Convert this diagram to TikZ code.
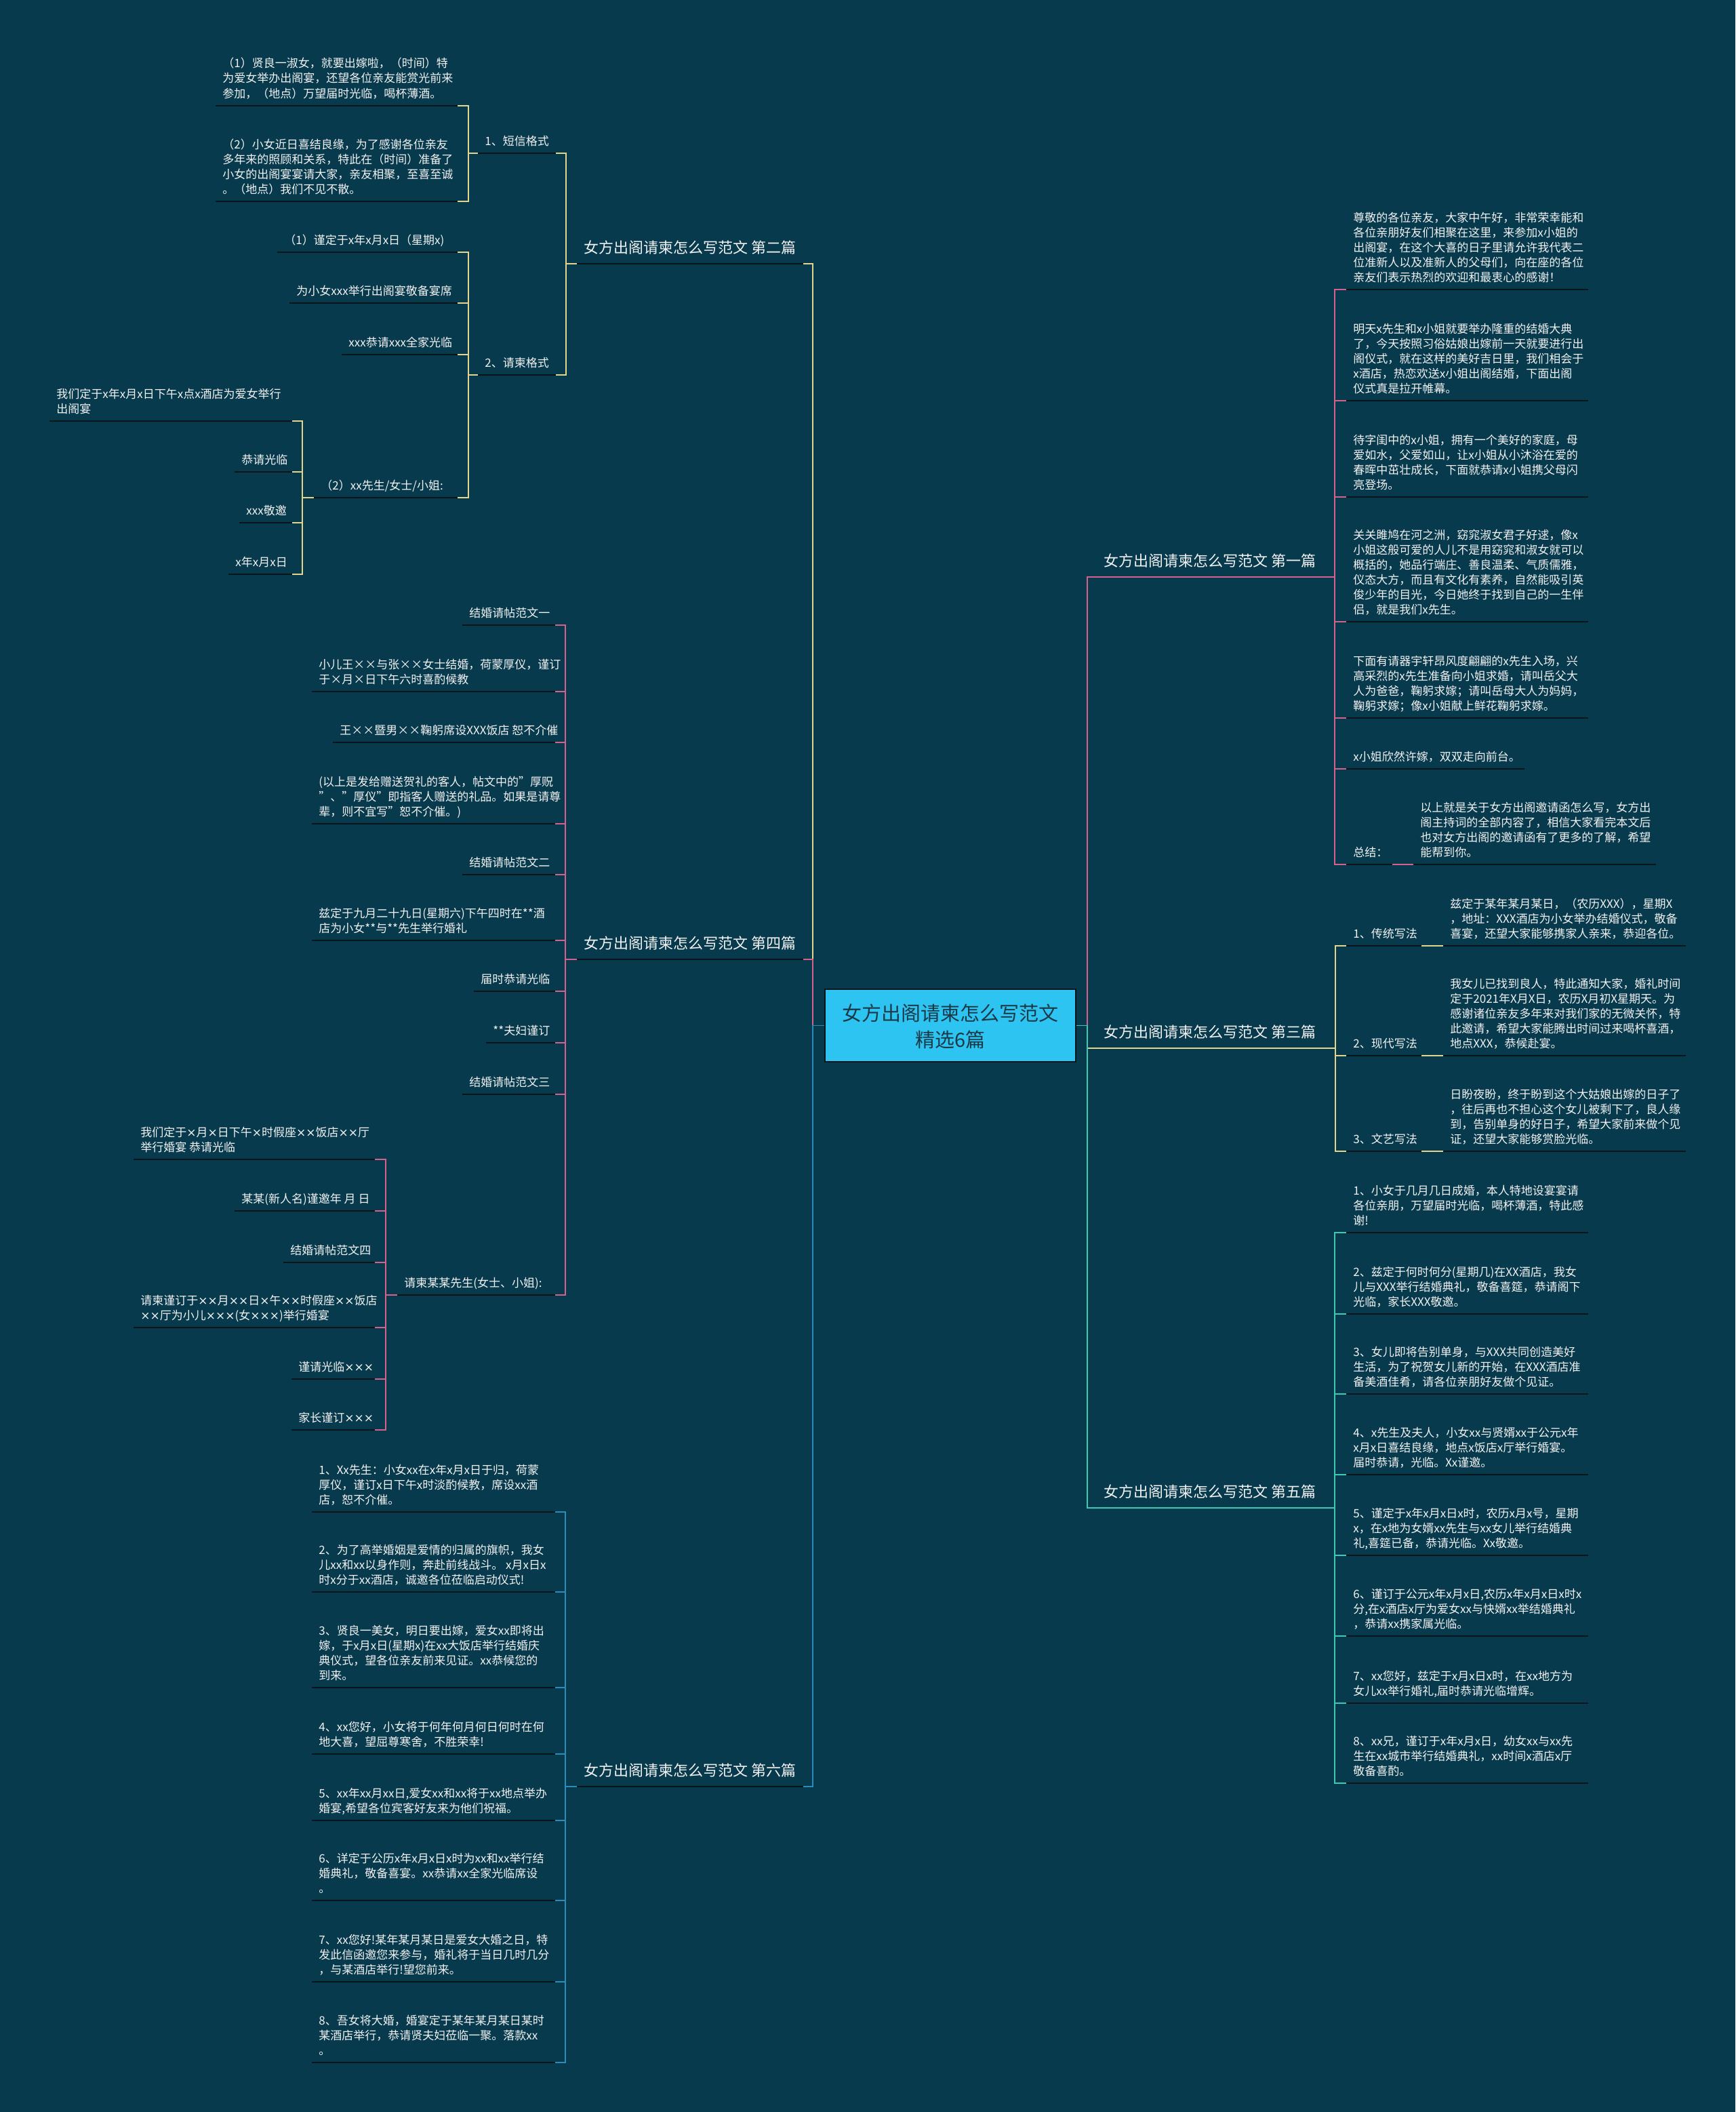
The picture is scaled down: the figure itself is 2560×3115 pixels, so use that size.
\documentclass[tikz,border=0pt]{standalone}
\usepackage{fontspec}
\setmainfont{Noto Sans CJK SC}
\newfontfamily\xfont{DejaVu Sans}
\newcommand\X{{\xfont ×}}
\definecolor{bg}{HTML}{083A4D}
\definecolor{ulc}{HTML}{09151B}
\definecolor{yel}{HTML}{E3D68C}
\definecolor{pinkc}{HTML}{D5618C}
\definecolor{bluec}{HTML}{2A8CBD}
\definecolor{tealc}{HTML}{3CCAB2}
\definecolor{cyanc}{HTML}{2EC4F2}
\definecolor{roottxt}{HTML}{1B3947}
\definecolor{txtc}{HTML}{F2F2F2}
\newcommand\tb[1]{\begin{tabular}[b]{@{}l@{}}#1\end{tabular}}
\newcommand\leaf[5]{%
  \coordinate (#1-l) at (#2,#4);
  \coordinate (#1-r) at (#3,#4);
  \draw[ul] (#1-l) -- (#1-r);
  \node[txt] (#1) at ({#2+10},{#4-12}) {\tb{#5}};}
\newcommand\lab[5]{%
  \coordinate (#1-l) at (#2,#4);
  \coordinate (#1-r) at (#3,#4);
  \draw[ul] (#1-l) -- (#1-r);
  \node[labt] (#1) at ({#2+10},{#4-16}) {#5};}
\newcommand\conn[4]{\foreach \c in {#4} {\draw[#1] (#2) -- ++(#3,0) |- (\c);}}
\tikzset{
  ul/.style={draw=ulc, line width=1.25pt},
  cyel/.style={draw=yel, line width=0.7pt},
  cpink/.style={draw=pinkc, line width=0.7pt},
  cblue/.style={draw=bluec, line width=0.7pt},
  cteal/.style={draw=tealc, line width=0.7pt},
  txt/.style={anchor=base west, inner sep=0pt, text=txtc, font=\fontsize{8.5pt}{11pt}\selectfont},
  labt/.style={anchor=base west, inner sep=0pt, text=txtc, font=\fontsize{11pt}{14pt}\selectfont},
  rootbox/.style={draw=ulc, line width=1pt, fill=cyanc, minimum width=185pt, minimum height=53.5pt, inner sep=0pt},
  roott/.style={anchor=base, inner sep=0pt, text=roottxt, font=\fontsize{14.5pt}{19.5pt}\selectfont}
}
\begin{document}
\begin{tikzpicture}[x=0.5pt,y=-0.5pt]
\useasboundingbox (0,0) rectangle (2560,3115);
\fill[bg] (0,0) rectangle (2560,3115);

% root
\node[rootbox] (root) at (1402,1512.5) {};
\node[roott] (roota) at (1402,1505) {女方出阁请柬怎么写范文};
\node[roott] (rootb) at (1402,1544) {精选6篇};

% ===== LEFT: 第二篇
\lab{s2}{851}{1185}{389}{女方出阁请柬怎么写范文 第二篇}
\leaf{s2a}{705}{820}{226}{1、短信格式}
\leaf{s2a1}{318}{675}{156}{（1）贤良一淑女，就要出嫁啦，（时间）特\\为爱女举办出阁宴，还望各位亲友能赏光前来\\参加，（地点）万望届时光临，喝杯薄酒。}
\leaf{s2a2}{318}{675}{297}{（2）小女近日喜结良缘，为了感谢各位亲友\\多年来的照顾和关系，特此在（时间）准备了\\小女的出阁宴宴请大家，亲友相聚，至喜至诚\\。（地点）我们不见不散。}
\leaf{s2b}{705}{820}{553}{2、请柬格式}
\leaf{s2b1}{409}{675}{372}{（1）谨定于x年x月x日（星期x)}
\leaf{s2b2}{427}{675}{447}{为小女xxx举行出阁宴敬备宴席}
\leaf{s2b3}{504}{675}{523}{xxx恭请xxx全家光临}
\leaf{s2b4}{463}{675}{734}{（2）xx先生/女士/小姐:}
\leaf{s2b4a}{73}{431}{621}{我们定于x年x月x日下午x点x酒店为爱女举行\\出阁宴}
\leaf{s2b4b}{346}{431}{696}{恭请光临}
\leaf{s2b4c}{353}{431}{771}{xxx敬邀}
\leaf{s2b4d}{337}{431}{847}{x年x月x日}

% ===== LEFT: 第四篇
\lab{s4}{851}{1185}{1415}{女方出阁请柬怎么写范文 第四篇}
\leaf{s4a}{682}{819}{922}{结婚请帖范文一}
\leaf{s4b}{460}{819}{1020}{小儿王××与张××女士结婚，荷蒙厚仪，谨订\\于×月×日下午六时喜酌候教}
\leaf{s4c}{491}{819}{1095}{王××暨男××鞠躬席设XXX饭店 恕不介催}
\leaf{s4d}{460}{819}{1215}{(以上是发给赠送贺礼的客人，帖文中的"厚贶\\"、"厚仪"即指客人赠送的礼品。如果是请尊\\辈，则不宜写"恕不介催。)}
\leaf{s4e}{682}{819}{1290}{结婚请帖范文二}
\leaf{s4f}{460}{819}{1387}{兹定于九月二十九日(星期六)下午四时在**酒\\店为小女**与**先生举行婚礼}
\leaf{s4g}{699}{819}{1462}{届时恭请光临}
\leaf{s4h}{717}{819}{1538}{**夫妇谨订}
\leaf{s4i}{682}{819}{1614}{结婚请帖范文三}
\leaf{s4j}{586}{819}{1910}{请柬某某先生(女士、小姐):}
\leaf{s4j1}{197}{553}{1710}{我们定于\X 月\X 日下午\X 时假座\X\X 饭店\X\X 厅\\举行婚宴 恭请光临}
\leaf{s4j2}{346}{553}{1786}{某某(新人名)谨邀年 月 日}
\leaf{s4j3}{418}{553}{1862}{结婚请帖范文四}
\leaf{s4j4}{197}{553}{1958}{请柬谨订于\X\X 月\X\X 日\X 午\X\X 时假座\X\X 饭店\\\X\X 厅为小儿\X\X\X (女\X\X\X )举行婚宴}
\leaf{s4j5}{430}{553}{2034}{谨请光临\X\X\X}
\leaf{s4j6}{430}{553}{2109}{家长谨订\X\X\X}

% ===== LEFT: 第六篇
\lab{s6}{851}{1185}{2635}{女方出阁请柬怎么写范文 第六篇}
\leaf{s6a}{460}{819}{2230}{1、Xx先生：小女xx在x年x月x日于归，荷蒙\\厚仪，谨订x日下午x时淡酌候教，席设xx酒\\店，恕不介催。}
\leaf{s6b}{460}{819}{2348}{2、为了高举婚姻是爱情的归属的旗帜，我女\\儿xx和xx以身作则，奔赴前线战斗。 x月x日x\\时x分于xx酒店，诚邀各位莅临启动仪式!}
\leaf{s6c}{460}{819}{2489}{3、贤良一美女，明日要出嫁，爱女xx即将出\\嫁，于x月x日(星期x)在xx大饭店举行结婚庆\\典仪式，望各位亲友前来见证。xx恭候您的\\到来。}
\leaf{s6d}{460}{819}{2587}{4、xx您好，小女将于何年何月何日何时在何\\地大喜，望屈尊寒舍，不胜荣幸!}
\leaf{s6e}{460}{819}{2685}{5、xx年xx月xx日,爱女xx和xx将于xx地点举办\\婚宴,希望各位宾客好友来为他们祝福。}
\leaf{s6f}{460}{819}{2803}{6、详定于公历x年x月x日x时为xx和xx举行结\\婚典礼，敬备喜宴。xx恭请xx全家光临席设\\。}
\leaf{s6g}{460}{819}{2923}{7、xx您好!某年某月某日是爱女大婚之日，特\\发此信函邀您来参与，婚礼将于当日几时几分\\，与某酒店举行!望您前来。}
\leaf{s6h}{460}{819}{3042}{8、吾女将大婚，婚宴定于某年某月某日某时\\某酒店举行，恭请贤夫妇莅临一聚。落款xx\\。}

% ===== RIGHT: 第一篇
\lab{s1}{1618}{1954}{851}{女方出阁请柬怎么写范文 第一篇}
\leaf{s1a}{1986}{2343}{427}{尊敬的各位亲友，大家中午好，非常荣幸能和\\各位亲朋好友们相聚在这里，来参加x小姐的\\出阁宴，在这个大喜的日子里请允许我代表二\\位准新人以及准新人的父母们，向在座的各位\\亲友们表示热烈的欢迎和最衷心的感谢！}
\leaf{s1b}{1986}{2343}{591}{明天x先生和x小姐就要举办隆重的结婚大典\\了，今天按照习俗姑娘出嫁前一天就要进行出\\阁仪式，就在这样的美好吉日里，我们相会于\\x酒店，热恋欢送x小姐出阁结婚，下面出阁\\仪式真是拉开帷幕。}
\leaf{s1c}{1986}{2343}{733}{待字闺中的x小姐，拥有一个美好的家庭，母\\爱如水，父爱如山，让x小姐从小沐浴在爱的\\春晖中茁壮成长，下面就恭请x小姐携父母闪\\亮登场。}
\leaf{s1d}{1986}{2343}{917}{关关雎鸠在河之洲，窈窕淑女君子好逑，像x\\小姐这般可爱的人儿不是用窈窕和淑女就可以\\概括的，她品行端庄、善良温柔、气质儒雅，\\仪态大方，而且有文化有素养，自然能吸引英\\俊少年的目光，今日她终于找到自己的一生伴\\侣，就是我们x先生。}
\leaf{s1e}{1986}{2343}{1059}{下面有请器宇轩昂风度翩翩的x先生入场，兴\\高采烈的x先生准备向小姐求婚，请叫岳父大\\人为爸爸，鞠躬求嫁；请叫岳母大人为妈妈，\\鞠躬求嫁；像x小姐献上鲜花鞠躬求嫁。}
\leaf{s1f}{1986}{2249}{1134}{x小姐欣然许嫁，双双走向前台。}
\leaf{s1g}{1986}{2054}{1275}{总结：}
\leaf{s1g1}{2085}{2443}{1275}{以上就是关于女方出阁邀请函怎么写，女方出\\阁主持词的全部内容了，相信大家看完本文后\\也对女方出阁的邀请函有了更多的了解，希望\\能帮到你。}

% ===== RIGHT: 第三篇
\lab{s3}{1618}{1954}{1546}{女方出阁请柬怎么写范文 第三篇}
\leaf{s3a}{1986}{2097}{1395}{1、传统写法}
\leaf{s3a1}{2129}{2487}{1395}{兹定于某年某月某日，（农历XXX），星期X\\，地址：XXX酒店为小女举办结婚仪式，敬备\\喜宴，还望大家能够携家人亲来，恭迎各位。}
\leaf{s3b}{1986}{2097}{1557}{2、现代写法}
\leaf{s3b1}{2129}{2487}{1557}{我女儿已找到良人，特此通知大家，婚礼时间\\定于2021年X月X日，农历X月初X星期天。为\\感谢诸位亲友多年来对我们家的无微关怀，特\\此邀请，希望大家能腾出时间过来喝杯喜酒，\\地点XXX，恭候赴宴。}
\leaf{s3c}{1986}{2097}{1698}{3、文艺写法}
\leaf{s3c1}{2129}{2487}{1698}{日盼夜盼，终于盼到这个大姑娘出嫁的日子了\\，往后再也不担心这个女儿被剩下了，良人缘\\到，告别单身的好日子，希望大家前来做个见\\证，还望大家能够赏脸光临。}

% ===== RIGHT: 第五篇
\lab{s5}{1618}{1954}{2224}{女方出阁请柬怎么写范文 第五篇}
\leaf{s5a}{1986}{2343}{1818}{1、小女于几月几日成婚，本人特地设宴宴请\\各位亲朋，万望届时光临，喝杯薄酒，特此感\\谢!}
\leaf{s5b}{1986}{2343}{1938}{2、兹定于何时何分(星期几)在XX酒店，我女\\儿与XXX举行结婚典礼，敬备喜筵，恭请阁下\\光临，家长XXX敬邀。}
\leaf{s5c}{1986}{2343}{2056}{3、女儿即将告别单身，与XXX共同创造美好\\生活，为了祝贺女儿新的开始，在XXX酒店准\\备美酒佳肴，请各位亲朋好友做个见证。}
\leaf{s5d}{1986}{2343}{2175}{4、x先生及夫人，小女xx与贤婿xx于公元x年\\x月x日喜结良缘，地点x饭店x厅举行婚宴。\\届时恭请，光临。Xx谨邀。}
\leaf{s5e}{1986}{2343}{2294}{5、谨定于x年x月x日x时，农历x月x号，星期\\x，在x地为女婿xx先生与xx女儿举行结婚典\\礼,喜筵已备，恭请光临。Xx敬邀。}
\leaf{s5f}{1986}{2343}{2413}{6、谨订于公元x年x月x日,农历x年x月x日x时x\\分,在x酒店x厅为爱女xx与快婿xx举结婚典礼\\，恭请xx携家属光临。}
\leaf{s5g}{1986}{2343}{2512}{7、xx您好，兹定于x月x日x时，在xx地方为\\女儿xx举行婚礼,届时恭请光临增辉。}
\leaf{s5h}{1986}{2343}{2630}{8、xx兄，谨订于x年x月x日，幼女xx与xx先\\生在xx城市举行结婚典礼，xx时间x酒店x厅\\敬备喜酌。}

% ===== connectors
\conn{cyel}{s2a-l}{-14}{s2a1-r,s2a2-r}
\conn{cyel}{s2b-l}{-14}{s2b1-r,s2b2-r,s2b3-r,s2b4-r}
\conn{cyel}{s2b4-l}{-17}{s2b4a-r,s2b4b-r,s2b4c-r,s2b4d-r}
\conn{cyel}{s2-l}{-16}{s2a-r,s2b-r}
\conn{cpink}{s4-l}{-17}{s4a-r,s4b-r,s4c-r,s4d-r,s4e-r,s4f-r,s4g-r,s4h-r,s4i-r,s4j-r}
\conn{cpink}{s4j-l}{-17}{s4j1-r,s4j2-r,s4j3-r,s4j4-r,s4j5-r,s4j6-r}
\conn{cblue}{s6-l}{-17}{s6a-r,s6b-r,s6c-r,s6d-r,s6e-r,s6f-r,s6g-r,s6h-r}
\conn{cpink}{s1-r}{15}{s1a-l,s1b-l,s1c-l,s1d-l,s1e-l,s1f-l,s1g-l}
\draw[cpink] (s1g-r) -- (s1g1-l);
\conn{cyel}{s3-r}{16}{s3a-l,s3b-l,s3c-l}
\draw[cyel] (s3a-r) -- (s3a1-l);
\draw[cyel] (s3b-r) -- (s3b1-l);
\draw[cyel] (s3c-r) -- (s3c1-l);
\conn{cteal}{s5-r}{15}{s5a-l,s5b-l,s5c-l,s5d-l,s5e-l,s5f-l,s5g-l,s5h-l}
% root connectors
\conn{cyel}{root.west}{-17}{s2-r}
\conn{cpink}{root.west}{-17}{s4-r}
\conn{cblue}{root.west}{-17}{s6-r}
\conn{cpink}{root.east}{16}{s1-r}
\conn{cyel}{root.east}{16}{s3-r}
\conn{cteal}{root.east}{16}{s5-r}
\end{tikzpicture}
\end{document}
